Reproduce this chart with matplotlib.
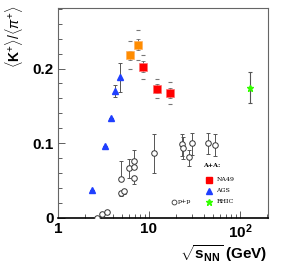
#!/usr/bin/env python3

# K+/pi+ ratio versus collision energy, A+A and p+p
import matplotlib
matplotlib.use('Agg')
import matplotlib.pyplot as plt
import matplotlib.ticker as ticker
import numpy as np

plt.rcParams['mathtext.fontset'] = 'custom'
plt.rcParams['mathtext.rm'] = 'Liberation Sans'
plt.rcParams['mathtext.bf'] = 'Liberation Sans:bold'
plt.rcParams['mathtext.it'] = 'Liberation Sans:italic'

# AGS (blue triangles)
agsS = [2.37, 3.28, 3.82, 4.23, 4.84]
agsK = [0.0375, 0.097, 0.1335, 0.170, 0.188]
agsErr = [0.0, 0.0, 0.0, 0.008, 0.019]

# NA49 (orange = low energy, red = higher energy)
na49OrS = [6.23, 7.57]
na49OrK = [0.218, 0.232]
na49OrStat = [0.006, 0.007]
na49OrSys = [0.019, 0.020]

na49S = [8.66, 12.2, 17.1]
na49K = [0.2025, 0.173, 0.167]
na49Stat = [0.007, 0.006, 0.007]
na49Sys = [0.016, 0.013, 0.015]

# RHIC (green star)
rhicS = [130.0]
rhicK = [0.1745]
rhicErr = [0.0205]

# p+p (open circles)
ppS = [2.68, 3.04, 3.45, 4.93, 4.90, 5.35, 6.02, 6.77, 6.77, 6.77,
       11.4, 22.9, 23.8, 27.3, 29.9, 44.9, 52.7]
ppK = [0.0004, 0.006, 0.008, 0.052, 0.034, 0.0355, 0.0665, 0.0767, 0.0687, 0.053,
       0.0874, 0.099, 0.093, 0.081, 0.100, 0.100, 0.0977]
ppErrLo = [0.0, 0.0, 0.0, 0.0, 0.004, 0.003, 0.013, 0.0, 0.0, 0.007,
           0.027, 0.016, 0.014, 0.011, 0.016, 0.015, 0.015]
ppErrHi = [0.0, 0.0, 0.0, 0.024, 0.0, 0.0, 0.012, 0.014, 0.0, 0.0,
           0.025, 0.014, 0.015, 0.010, 0.014, 0.014, 0.015]

errColor = '#555555'
fig = plt.figure(figsize=(2.89, 2.73), dpi=100)
ax = fig.add_axes([0.2007, 0.2015, 0.7263, 0.7692])

# p+p
ax.errorbar(ppS, ppK, yerr=[ppErrLo, ppErrHi], fmt='o', mfc='white', mec='#333333',
            mew=0.7, ms=4, ecolor=errColor, elinewidth=0.7, capsize=1.2, capthick=0.7, zorder=3)

# AGS
ax.errorbar(agsS, agsK, yerr=agsErr, fmt='^', color='#1f3fff', ms=5, mec='#1f3fff',
            ecolor=errColor, elinewidth=0.7, capsize=1.2, capthick=0.7, zorder=4)

# NA49 systematic dashes
for s, k, e in zip(na49OrS + na49S, na49OrK + na49K, na49OrSys + na49Sys):
    ax.plot([s, s], [k - e, k + e], ls='none', marker='_', ms=2.5, mew=0.8, color='#777777')

ax.errorbar(na49OrS, na49OrK, yerr=na49OrStat, fmt='s', color='#ff8c00', mec='#ffb060',
            ms=5.5, mew=0.5, ecolor=errColor, elinewidth=0.6, capsize=1.2, capthick=0.7, zorder=4)
ax.errorbar(na49S, na49K, yerr=na49Stat, fmt='s', color='#ff0000', mec='#ff7070',
            ms=5.5, mew=0.5, ecolor=errColor, elinewidth=0.6, capsize=1.2, capthick=0.7, zorder=4)

# RHIC
ax.errorbar(rhicS, rhicK, yerr=rhicErr, fmt='*', color='#33ff00', ms=5, mec='#33ff00',
            ecolor=errColor, elinewidth=0.8, capsize=1.5, capthick=0.8, zorder=4)

ax.set_xscale('log')
ax.set_xlim(1, 203)
ax.set_ylim(0, 0.281)

ax.xaxis.set_major_locator(ticker.FixedLocator([1, 10, 100]))
ax.xaxis.set_major_formatter(ticker.FixedFormatter(['1', '10', r'$\mathbf{10^2}$']))
ax.xaxis.set_minor_locator(ticker.LogLocator(subs=np.arange(2, 10)))
ax.xaxis.set_minor_formatter(ticker.NullFormatter())
ax.yaxis.set_major_locator(ticker.FixedLocator([0, 0.1, 0.2]))
ax.yaxis.set_major_formatter(ticker.FixedFormatter(['0', '0.1', '0.2']))
ax.yaxis.set_minor_locator(ticker.MultipleLocator(0.02))

ax.tick_params(which='both', direction='in', top=False, right=False, color='#444444', width=0.6)
ax.tick_params(which='major', length=5, labelsize=11, pad=3)
ax.tick_params(which='minor', length=3)
for lab in ax.get_xticklabels() + ax.get_yticklabels():
    lab.set_fontweight('bold')
    lab.set_family('Liberation Sans')

for side in ['top', 'right', 'left']:
    ax.spines[side].set_color('#666666')
    ax.spines[side].set_linewidth(0.8)
ax.spines['bottom'].set_color('black')
ax.spines['bottom'].set_linewidth(1.2)

# axis labels
fig.text(0.05, 0.865, r'$\langle\mathbf{K}^{+}\rangle/\langle\pi^{+}\rangle$', rotation=90,
         ha='center', va='center', fontsize=10)
fig.text(0.925, 0.072, r'$\sqrt{\mathbf{s}_{\mathbf{NN}}}$ (GeV)', ha='right', va='center',
         fontsize=11, fontweight='bold', family='Liberation Sans')

# legend drawn by hand
tx = ax.transAxes
ax.text(0.69, 0.245, 'A+A:', transform=tx, fontsize=4.5, fontweight='bold', family='serif')
ax.plot([0.72], [0.182], 's', color='#ff0000', ms=4.5, transform=tx)
ax.text(0.755, 0.182, 'NA49', transform=tx, fontsize=4.5, family='serif', va='center')
ax.plot([0.72], [0.13], '^', color='#1f3fff', ms=4.5, transform=tx)
ax.text(0.755, 0.13, 'AGS', transform=tx, fontsize=4.5, family='serif', va='center')
ax.plot([0.72], [0.078], '*', color='#33ff00', ms=4.5, transform=tx)
ax.text(0.755, 0.078, 'RHIC', transform=tx, fontsize=4.5, family='serif', va='center')
ax.plot([0.555], [0.078], 'o', mfc='white', mec='#333333', mew=0.6, ms=3.5, transform=tx)
ax.text(0.57, 0.078, 'p+p', transform=tx, fontsize=4.5, family='serif', va='center')

fig.savefig('out.png', dpi=100)
